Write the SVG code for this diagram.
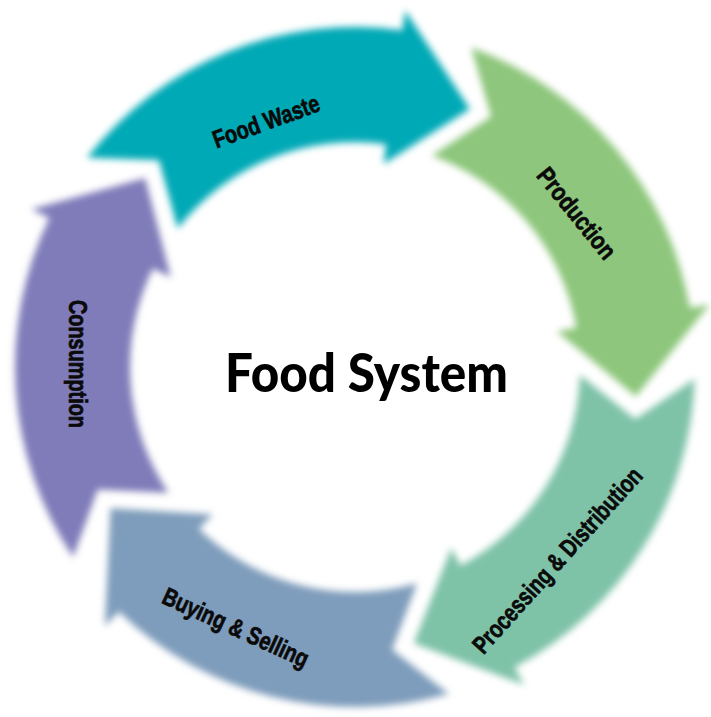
<svg xmlns="http://www.w3.org/2000/svg" xmlns:xlink="http://www.w3.org/1999/xlink" width="711" height="717" viewBox="0 0 711 717">
  <style>
    .lbl { font-family: "Liberation Sans", Arial, sans-serif; font-weight: bold; font-size: 25px; fill: #0a0a0a; stroke: #0a0a0a; stroke-width: 0.7px; text-anchor: middle; }
    .title { font-family: Lato, "Open Sans", "Liberation Sans", sans-serif; font-weight: 900; font-size: 54px; fill: #000; text-anchor: middle; }
    .arc { filter: url(#soft); }
  </style>
  <defs>
    <filter id="soft" x="-20%" y="-20%" width="140%" height="140%">
      <feGaussianBlur stdDeviation="3.6"/>
    </filter>
    <!-- one curved arrow segment of the ring, tail at angle 0, running clockwise around the origin -->
    <path id="arrow" d="M 340 0 A 340 340 0 0 1 170 294.449 L 180 311.769 L 68.343 274.109 L 102.5 177.535 L 112.5 194.856 A 225 225 0 0 0 225 0 L 281.87 42.126 Z"/>
  </defs>

  <rect width="711" height="717" fill="#fff"/>

  <g id="cycle">
    <g id="food-waste">
      <use xlink:href="#arrow" href="#arrow" class="arc" fill="#06A9B6" transform="translate(355 367) rotate(218)"/>
      <text class="lbl" transform="translate(266 121) rotate(-20)" y="9" textLength="112" lengthAdjust="spacingAndGlyphs">Food Waste</text>
    </g>
    <g id="production">
      <use xlink:href="#arrow" href="#arrow" class="arc" fill="#8DC67B" transform="translate(355 367) rotate(290)"/>
      <text class="lbl" transform="translate(577 213) rotate(51)" y="9" textLength="110" lengthAdjust="spacingAndGlyphs">Production</text>
    </g>
    <g id="processing-distribution">
      <use xlink:href="#arrow" href="#arrow" class="arc" fill="#7EC2A8" transform="translate(355 367) rotate(2)"/>
      <text class="lbl" transform="translate(557 560) rotate(-48)" y="9" textLength="240" lengthAdjust="spacingAndGlyphs">Processing &amp; Distribution</text>
    </g>
    <g id="buying-selling">
      <use xlink:href="#arrow" href="#arrow" class="arc" fill="#7E9CBB" transform="translate(355 367) rotate(74)"/>
      <text class="lbl" transform="translate(236 627) rotate(24.5)" y="9" textLength="158" lengthAdjust="spacingAndGlyphs">Buying &amp; Selling</text>
    </g>
    <g id="consumption">
      <use xlink:href="#arrow" href="#arrow" class="arc" fill="#7F7CB9" transform="translate(355 367) rotate(146)"/>
      <text class="lbl" transform="translate(77.5 364) rotate(90)" y="9" textLength="128" lengthAdjust="spacingAndGlyphs">Consumption</text>
    </g>
  </g>

  <g id="connectors"/>

  <g id="center">
    <text class="title" x="366.5" y="392" textLength="283" lengthAdjust="spacingAndGlyphs">Food System</text>
  </g>
</svg>
